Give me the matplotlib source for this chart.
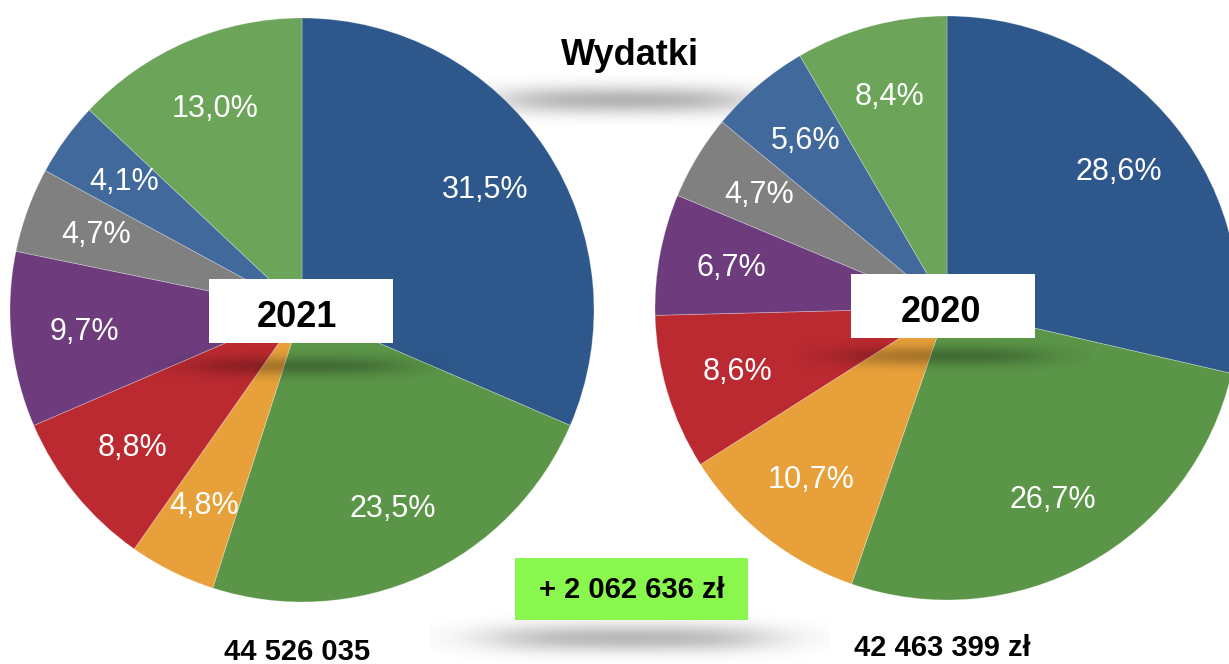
import numpy as np
import matplotlib
matplotlib.use("Agg")
import matplotlib.pyplot as plt
from matplotlib.patches import Rectangle

# ---- data ----
title = "Wydatki"
years = ["2021", "2020"]
shares_2021 = [31.5, 23.5, 4.8, 8.8, 9.7, 4.7, 4.1, 13.0]
shares_2020 = [28.6, 26.7, 10.7, 8.6, 6.7, 4.7, 5.6, 8.4]
labels_2021 = ["31,5%", "23,5%", "4,8%", "8,8%", "9,7%", "4,7%", "4,1%", "13,0%"]
labels_2020 = ["28,6%", "26,7%", "10,7%", "8,6%", "6,7%", "4,7%", "5,6%", "8,4%"]
totals = ["44 526 035", "42 463 399 zł"]
difference = "+ 2 062 636 zł"
colors = ["#2E588C", "#5B9648", "#E8A13A", "#BB2A30", "#6E3C7D",
          "#808080", "#41699B", "#6CA45A"]

W, H = 1229, 664
fig = plt.figure(figsize=(W / 100, H / 100), dpi=100)
ax = fig.add_axes([0, 0, 1, 1])
ax.set_xlim(0, W)
ax.set_ylim(0, H)
ax.set_aspect("equal")
ax.axis("off")

FONT = ["Liberation Sans", "DejaVu Sans"]


def py(y):
    return H - y


def shadow(cx, cy, w, h, color, alpha, z, soft=0.12, ysig=0.4):
    nx, ny = 300, 80
    x = np.linspace(-1, 1, nx)
    y = np.linspace(-1, 1, ny)
    X, Y = np.meshgrid(x, y)
    fx = 1.0 / (1.0 + np.exp((np.abs(X) - 0.65) / soft))
    fy = np.exp(-(Y / ysig) ** 2)
    a = fx * fy
    img = np.zeros((ny, nx, 4))
    rgb = matplotlib.colors.to_rgb(color)
    img[..., 0], img[..., 1], img[..., 2] = rgb
    img[..., 3] = a * alpha
    ax.imshow(img, extent=(cx - w / 2, cx + w / 2, py(cy + h / 2), py(cy - h / 2)),
              zorder=z, interpolation="bilinear", aspect="auto")


# outside shadows (behind pies)
shadow(625, 100, 360, 70, "#000000", 0.30, 0.5, soft=0.14)
shadow(630, 638, 400, 70, "#000000", 0.28, 0.5, soft=0.14)

pies = [
    (shares_2021, labels_2021, (302, py(310))),
    (shares_2020, labels_2020, (947, py(308))),
]
for vals, labs, c in pies:
    wedges, texts = ax.pie(
        vals, labels=labs, labeldistance=0.75, colors=colors,
        startangle=90, counterclock=False, center=c, radius=292,
        wedgeprops=dict(edgecolor=(1, 1, 1, 0.3), linewidth=0.6),
        textprops=dict(color="white", fontsize=22, family=FONT),
        frame=True,
    )
    for t in texts:
        t.set_ha("center")
        t.set_va("center")
        t.set_zorder(3)

ax.set_xlim(0, W)
ax.set_ylim(0, H)
ax.axis("off")

# shadows inside the pies under the year boxes
shadow(300, 366, 300, 56, "#000000", 0.28, 2, soft=0.14, ysig=0.35)
shadow(943, 356, 300, 56, "#000000", 0.28, 2, soft=0.14, ysig=0.35)

# year boxes
boxes = [(209, 279, 393, 343, 297, 327), (851, 274, 1035, 338, 941.5, 322)]
for (x0, y0, x1, y1, tx, tb), yr in zip(boxes, years):
    ax.add_patch(Rectangle((x0, py(y1)), x1 - x0, y1 - y0, facecolor="white",
                           edgecolor="none", zorder=4))
    ax.text(tx, py(tb), yr, ha="center", va="baseline", fontsize=26,
            fontweight="bold", family=FONT, color="black", zorder=5)

# title
ax.text(630, py(65), title, ha="center", va="baseline", fontsize=26,
        fontweight="bold", family=FONT, color="black", zorder=5)

# difference box
ax.add_patch(Rectangle((515, py(620)), 233, 62, facecolor="#8AF74F",
                       edgecolor="none", zorder=4))
ax.text(631.5, py(598), difference, ha="center", va="baseline", fontsize=21,
        fontweight="bold", family=FONT, color="black", zorder=5)

# totals
ax.text(297, py(660), totals[0], ha="center", va="baseline", fontsize=21,
        fontweight="bold", family=FONT, color="black", zorder=5)
ax.text(942.5, py(656), totals[1], ha="center", va="baseline", fontsize=21,
        fontweight="bold", family=FONT, color="black", zorder=5)

fig.savefig("out.png", dpi=100, facecolor="white")
